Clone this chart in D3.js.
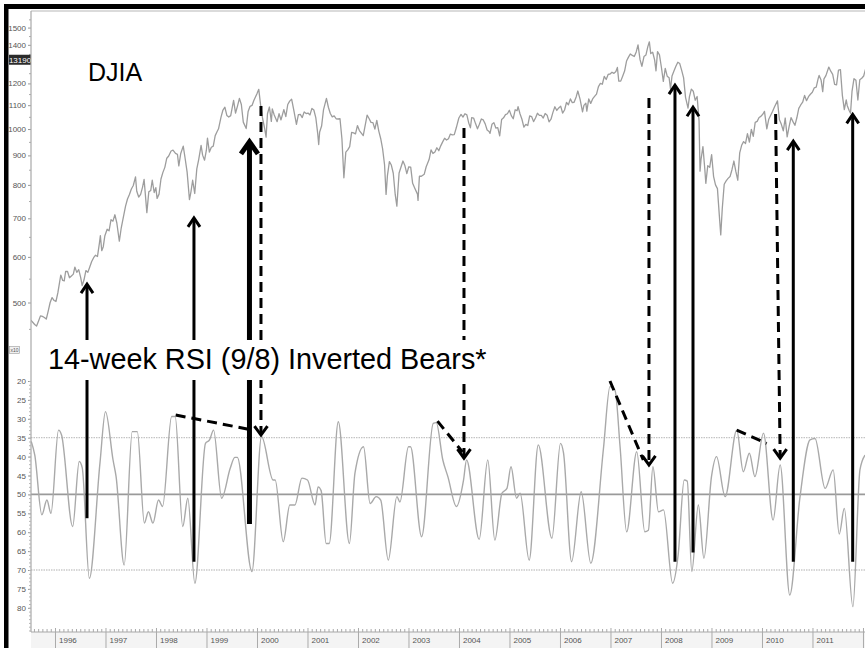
<!DOCTYPE html>
<html><head><meta charset="utf-8">
<script src="https://cdn.jsdelivr.net/npm/d3@7"></script>
<style>body{margin:0;background:#fff}svg{display:block}</style>
</head><body>
<svg id="c" width="865" height="648"></svg>
<script>
// ---- DJIA weekly-ish closes (chart units = index / 10) ----
const djiaDates = [
"1995-07-10","1995-07-24","1995-08-07","1995-08-21","1995-09-05","1995-09-18","1995-10-02","1995-10-16","1995-10-30","1995-11-13","1995-11-27","1995-12-11","1995-12-26",
"1996-01-08","1996-01-22","1996-02-05","1996-02-12","1996-02-26","1996-03-08","1996-03-18","1996-04-01","1996-04-15","1996-04-29","1996-05-13","1996-05-24","1996-06-07","1996-06-21","1996-07-05","1996-07-16","1996-07-29","1996-08-12","1996-08-26","1996-09-09","1996-09-23","1996-10-07","1996-10-21","1996-11-04","1996-11-18","1996-11-25","1996-12-05","1996-12-16","1996-12-27",
"1997-01-13","1997-01-27","1997-02-10","1997-02-24","1997-03-10","1997-03-24","1997-04-11","1997-04-25","1997-05-12","1997-05-26","1997-06-09","1997-06-23","1997-07-07","1997-07-21","1997-08-06","1997-08-15","1997-08-29","1997-09-12","1997-09-26","1997-10-07","1997-10-27","1997-11-10","1997-11-24","1997-12-05","1997-12-19","1997-12-31",
"1998-01-09","1998-01-23","1998-02-06","1998-02-20","1998-03-06","1998-03-20","1998-04-03","1998-04-20","1998-05-04","1998-05-22","1998-06-05","1998-06-15","1998-06-29","1998-07-17","1998-07-31","1998-08-14","1998-08-31","1998-09-11","1998-09-23","1998-10-08","1998-10-23","1998-11-06","1998-11-23","1998-12-04","1998-12-18","1998-12-31",
"1999-01-08","1999-01-22","1999-02-05","1999-02-19","1999-03-05","1999-03-19","1999-03-29","1999-04-16","1999-04-30","1999-05-14","1999-05-28","1999-06-11","1999-06-25","1999-07-16","1999-07-30","1999-08-13","1999-08-27","1999-09-10","1999-09-24","1999-10-15","1999-10-29","1999-11-12","1999-11-26","1999-12-10","1999-12-31",
"2000-01-14","2000-01-28","2000-02-11","2000-02-25","2000-03-07","2000-03-17","2000-03-31","2000-04-14","2000-04-21","2000-05-05","2000-05-26","2000-06-09","2000-06-23","2000-07-14","2000-07-28","2000-08-11","2000-08-25","2000-09-08","2000-09-22","2000-10-13","2000-10-27","2000-11-10","2000-11-24","2000-12-08","2000-12-22",
"2001-01-05","2001-01-19","2001-02-02","2001-02-16","2001-03-02","2001-03-16","2001-03-23","2001-03-30","2001-04-13","2001-04-27","2001-05-18","2001-06-01","2001-06-15","2001-06-29","2001-07-13","2001-07-27","2001-08-10","2001-08-24","2001-09-07","2001-09-21","2001-10-05","2001-10-19","2001-11-02","2001-11-16","2001-11-30","2001-12-14","2001-12-28",
"2002-01-11","2002-01-25","2002-02-08","2002-02-22","2002-03-08","2002-03-22","2002-04-05","2002-04-19","2002-05-03","2002-05-17","2002-05-31","2002-06-14","2002-06-28","2002-07-12","2002-07-23","2002-08-02","2002-08-16","2002-08-30","2002-09-13","2002-09-27","2002-10-09","2002-10-25","2002-11-08","2002-11-22","2002-12-06","2002-12-20",
"2003-01-03","2003-01-17","2003-01-31","2003-02-14","2003-03-07","2003-03-11","2003-03-21","2003-04-04","2003-04-25","2003-05-09","2003-05-30","2003-06-13","2003-06-27","2003-07-11","2003-07-25","2003-08-08","2003-08-22","2003-09-05","2003-09-19","2003-10-03","2003-10-17","2003-10-31","2003-11-14","2003-11-28","2003-12-12","2003-12-31",
"2004-01-16","2004-01-30","2004-02-13","2004-02-27","2004-03-12","2004-03-24","2004-04-02","2004-04-16","2004-04-30","2004-05-14","2004-05-28","2004-06-11","2004-06-25","2004-07-09","2004-07-23","2004-08-06","2004-08-13","2004-08-27","2004-09-10","2004-09-24","2004-10-08","2004-10-22","2004-11-05","2004-11-19","2004-12-03","2004-12-17","2004-12-31",
"2005-01-14","2005-01-28","2005-02-11","2005-02-25","2005-03-04","2005-03-18","2005-04-01","2005-04-15","2005-04-29","2005-05-13","2005-05-27","2005-06-10","2005-06-24","2005-07-08","2005-07-22","2005-08-05","2005-08-19","2005-09-02","2005-09-16","2005-09-30","2005-10-14","2005-10-28","2005-11-11","2005-11-25","2005-12-09","2005-12-23",
"2006-01-06","2006-01-20","2006-02-03","2006-02-17","2006-03-03","2006-03-17","2006-03-31","2006-04-13","2006-04-28","2006-05-10","2006-05-26","2006-06-13","2006-06-23","2006-07-07","2006-07-14","2006-07-28","2006-08-11","2006-08-25","2006-09-08","2006-09-22","2006-10-06","2006-10-20","2006-11-03","2006-11-17","2006-12-01","2006-12-15","2006-12-29",
"2007-01-12","2007-01-26","2007-02-09","2007-02-20","2007-03-02","2007-03-16","2007-03-30","2007-04-13","2007-04-27","2007-05-11","2007-05-25","2007-06-08","2007-06-22","2007-07-06","2007-07-19","2007-08-03","2007-08-16","2007-08-31","2007-09-14","2007-09-28","2007-10-09","2007-10-19","2007-11-02","2007-11-16","2007-11-26","2007-12-07","2007-12-21",
"2008-01-04","2008-01-18","2008-02-01","2008-02-15","2008-02-29","2008-03-10","2008-03-21","2008-04-04","2008-04-18","2008-05-02","2008-05-16","2008-05-30","2008-06-13","2008-06-27","2008-07-15","2008-07-25","2008-08-08","2008-08-22","2008-09-05","2008-09-19","2008-10-03","2008-10-10","2008-10-17","2008-10-31","2008-11-14","2008-11-21","2008-12-05","2008-12-19",
"2009-01-02","2009-01-16","2009-01-30","2009-02-13","2009-02-27","2009-03-09","2009-03-20","2009-04-03","2009-04-17","2009-05-01","2009-05-15","2009-05-29","2009-06-12","2009-06-26","2009-07-10","2009-07-24","2009-08-07","2009-08-21","2009-09-04","2009-09-18","2009-10-02","2009-10-16","2009-10-30","2009-11-13","2009-11-27","2009-12-11","2009-12-24",
"2010-01-08","2010-01-19","2010-02-05","2010-02-19","2010-03-05","2010-03-19","2010-04-02","2010-04-23","2010-05-07","2010-05-21","2010-06-04","2010-06-18","2010-07-02","2010-07-16","2010-07-30","2010-08-13","2010-08-27","2010-09-10","2010-09-24","2010-10-08","2010-10-22","2010-11-05","2010-11-19","2010-12-03","2010-12-17","2010-12-31",
"2011-01-14","2011-01-28","2011-02-11","2011-02-18","2011-03-04","2011-03-16","2011-03-25","2011-04-08","2011-04-29","2011-05-13","2011-05-27","2011-06-10","2011-06-24","2011-07-08","2011-07-22","2011-08-05","2011-08-19","2011-09-02","2011-09-09","2011-09-23","2011-10-03","2011-10-14","2011-10-28","2011-11-11","2011-11-25","2011-12-09","2011-12-23",
"2012-01-06","2012-01-20","2012-01-30"
];
const djiaValues = [
466,462,458,455,465,474,473,471,468,483,500,510,504,
502,520,545,558,546,545,566,566,552,556,560,576,564,570,553,535,547,568,564,576,589,598,604,601,634,653,615,625,652,
670,666,696,692,710,687,639,674,707,735,756,770,787,798,826,780,762,770,793,818,716,778,782,815,776,791,
758,771,819,841,858,890,898,916,919,907,904,863,907,934,888,842,754,779,815,773,853,886,937,901,883,918,
964,912,930,934,974,990,1001,1049,1079,1091,1056,1049,1055,1121,1066,1096,1130,1103,1028,1002,1073,1095,1099,1122,1150,
1172,1097,1042,1004,968,1063,1092,1031,1084,1058,1030,1063,1037,1081,1051,1103,1118,1127,1084,1019,1059,1060,1047,1071,1064,
1066,1058,1086,1079,1047,982,940,988,1012,1081,1130,1091,1064,1050,1054,1042,1041,1042,961,823,912,920,932,987,985,981,1014,
994,984,974,1015,1057,1043,1027,1026,1000,1035,993,963,924,867,770,831,878,866,838,770,735,839,859,880,864,837,
860,859,805,791,771,752,828,828,835,860,885,920,907,912,928,917,935,950,964,957,962,980,977,978,1004,1045,
1060,1049,1063,1058,1024,1005,1047,1045,1022,1001,1019,1041,1037,1021,996,990,983,1019,1026,1004,1006,973,1039,1046,1059,1063,1078,
1055,1042,1080,1076,1094,1063,1040,1008,1019,1014,1054,1051,1030,1045,1065,1056,1056,1045,1064,1057,1029,1040,1069,1093,1077,1088,
1096,1066,1079,1112,1102,1128,1111,1113,1137,1164,1127,1071,1099,1109,1074,1128,1108,1128,1139,1150,1185,1200,1196,1234,1219,1244,1246,
1255,1249,1258,1279,1211,1211,1235,1261,1312,1333,1350,1342,1336,1361,1400,1318,1285,1336,1344,1390,1417,1352,1359,1318,1262,1363,1345,
1280,1210,1274,1235,1227,1174,1236,1261,1285,1306,1299,1264,1227,1135,1087,1137,1173,1163,1122,1139,1033,845,885,932,850,805,864,858,
903,828,800,788,706,655,728,802,813,821,827,850,880,844,815,909,937,951,944,982,949,999,971,1027,1031,1047,1052,
1062,1073,1001,1040,1057,1074,1093,1119,1038,1019,993,1045,969,1010,1047,1030,1015,1046,1086,1101,1113,1144,1120,1138,1149,1158,
1179,1182,1223,1239,1217,1161,1222,1238,1281,1260,1244,1195,1193,1266,1268,1144,1081,1124,1099,1077,1065,1164,1223,1215,1123,1218,1225,
1236,1272,1266
];

// ---- 14-week RSI (inverted), turning points, decimal years ----
const rsiYears = [
1995.53,1995.60,1995.74,1995.84,1995.92,1996.07,1996.13,1996.35,1996.48,1996.54,
1996.68,1996.89,1997.00,1997.15,1997.21,1997.37,1997.53,1997.63,1997.77,1997.85,
1997.94,1998.05,1998.13,1998.31,1998.38,1998.53,1998.63,1998.77,1998.98,1999.06,
1999.14,1999.30,1999.47,1999.56,1999.61,1999.90,2000.09,2000.32,2000.36,2000.52,
2000.65,2000.75,2000.89,2001.00,2001.15,2001.21,2001.27,2001.37,2001.43,2001.61,
2001.83,2001.94,2002.11,2002.24,2002.36,2002.45,2002.60,2002.77,2002.83,2003.00,
2003.04,2003.26,2003.49,2003.55,2003.68,2003.78,2003.95,2004.09,2004.15,2004.40,
2004.57,2004.71,2004.85,2004.95,2005.03,2005.14,2005.21,2005.39,2005.57,2005.84,
2006.01,2006.07,2006.23,2006.42,2006.61,2006.86,2006.99,2007.09,2007.19,2007.32,
2007.52,2007.68,2007.75,2007.84,2007.95,2008.05,2008.23,2008.34,2008.46,2008.52,
2008.61,2008.74,2008.85,2009.00,2009.10,2009.27,2009.50,2009.63,2009.75,2009.86,
2010.03,2010.22,2010.36,2010.55,2010.75,2010.95,2011.05,2011.25,2011.41,2011.53,
2011.63,2011.80,2011.94,2012.04
];
const rsiValues = [
36,39.6,55.4,51.5,55,33,34.3,58.5,41.3,43,
72.2,41.8,28.1,40.9,45.3,68.7,33.4,33.4,57.6,54.6,
57.6,51.5,53.2,29.4,29.4,58.5,51,73.5,36.5,35.6,
33,51,43.1,40.2,40.2,70.4,34.7,46.2,46.2,62.5,
52.8,52.8,45.7,46.2,52.8,48,49,63,63,30.8,
63,44.4,37.4,52.4,50.6,51.5,67.4,50.6,52,37.4,
37.4,61.2,31.2,31,40.9,45.3,53.2,46.2,40.9,61.9,
40.9,62.1,49.7,48.4,42.7,51,49.7,67.4,36.9,61.6,
36.5,39,67.8,49.3,68.2,38,21.5,22.5,37.4,59.9,
38.7,59.9,59.5,42.7,54.6,54.1,73.5,66,46.2,46.5,
70.4,52.8,66.9,45.3,40,50.6,33,44,39.1,45.3,
33.8,56.8,42.2,76.6,51,35.6,35.2,48.4,43.5,60.5,
53.7,79.7,43.5,39.6
];

// ---- axes / labels ----
const priceTicks = [500,600,700,800,900,1000,1100,1200,1400,1500];
const priceMinor = [450,550,650,750,850,950,1050,1150,1250,1300,1350,1450,1550];
const lastValueLabel = {value: 1319, text: "13190"};
const rsiTicks = [20,25,30,35,40,45,50,55,60,65,70,75,80];
const rsiLevels = [35,50,70];
const yearTicks = [1996,1997,1998,1999,2000,2001,2002,2003,2004,2005,2006,2007,2008,2009,2010,2011,2012];
const yearLabels = ["1996","1997","1998","1999","2000","2001","2002","2003","2004","2005","2006","2007","2008","2009","2010","2011"];

// ---- annotations ----
const upYears   = [1996.634, 1998.752, 1999.851, 2008.277, 2008.634, 2010.620, 2011.796];
const upTops    = [538, 701, 950, 1192, 1091, 953, 1060];   // DJIA level of arrow tip
const upBottoms = [56.3, 67.8, 57.8, 67.8, 65.4, 67.8, 67.8]; // RSI level of arrow base
const upThick   = [false, false, true, false, false, false, false];

const downTopYears = [2000.079, 2004.099, 2007.762, 2010.270];
const downBotYears = [2000.079, 2004.099, 2007.762, 2010.360];
const downTops     = [1096, 1004, 1132, 1062];
const downBottoms  = [34.3, 40.4, 42.2, 40.4];

const divStartYears = [1998.39, 2003.574, 2006.99, 2009.499];
const divStartRsi   = [29.0, 30.6, 20.0, 33.0];
const divEndYears   = [1999.847, 2004.069, 2007.65, 2010.093];
const divEndRsi     = [32.8, 38.8, 40.9, 36.5];

const titleText = "DJIA";
const rsiTitle = "14-week RSI (9/8) Inverted Bears*";

// ================= drawing =================
const W = 865, H = 648;
const svg = d3.select("#c");
const L = 31, R = 865;
const x = d3.scaleLinear().domain([1995.525, 2012.04]).range([L, R]);
const yP = d3.scaleLog().domain([427, 1622]).range([342, 8]);
const yR = d3.scaleLinear().domain([20, 80]).range([381, 607.8]);

const parse = d3.timeParse("%Y-%m-%d");
function decYear(s){const d=parse(s);const y=d.getFullYear();const a=new Date(y,0,1),b=new Date(y+1,0,1);return y+(d-a)/(b-a);}

svg.append("rect").attr("width",W).attr("height",H).attr("fill","#fff");
// x-axis band
svg.append("rect").attr("x",L).attr("y",632).attr("width",R-L).attr("height",16).attr("fill","#f4f4f4");

svg.append("defs").append("clipPath").attr("id","plot")
  .append("rect").attr("x",L).attr("y",10).attr("width",R-L).attr("height",622);

// top inner line
svg.append("line").attr("x1",L).attr("x2",R).attr("y1",11).attr("y2",11).attr("stroke","#cfcfcf").attr("stroke-width",1.5);

// RSI levels
const lvlStyle = {35:{c:"#c4c4c4",d:"1.5,1",w:1.2},50:{c:"#9a9a9a",d:null,w:1.6},70:{c:"#b0b0b0",d:"1.5,1",w:1.2}};
svg.append("g").selectAll("line").data(rsiLevels).join("line")
  .attr("x1",L).attr("x2",R).attr("y1",d=>yR(d)).attr("y2",d=>yR(d))
  .attr("stroke",d=>lvlStyle[d].c).attr("stroke-width",d=>lvlStyle[d].w)
  .attr("stroke-dasharray",d=>lvlStyle[d].d);

// DJIA line
const djia = djiaDates.map((d,i)=>({t:decYear(d), v:djiaValues[i]}));
svg.append("path").datum(djia).attr("clip-path","url(#plot)")
  .attr("fill","none").attr("stroke","#9d9d9d").attr("stroke-width",1.3).attr("stroke-linejoin","round")
  .attr("d", d3.line().x(d=>x(d.t)).y(d=>yP(d.v)));

// RSI line
const rsi = rsiYears.map((t,i)=>({t, v:rsiValues[i]}));
svg.append("path").datum(rsi).attr("clip-path","url(#plot)")
  .attr("fill","none").attr("stroke","#a9a9a9").attr("stroke-width",1.4)
  .attr("d", d3.line().curve(d3.curveMonotoneX).x(d=>x(d.t)).y(d=>yR(d.v)));

// ---- axes ----
const tickFont = "'Liberation Sans Narrow','Arial Narrow','Liberation Sans',sans-serif";
function styleAxis(g){
  g.select(".domain").attr("stroke","#a8a8a8").attr("stroke-width",1.2);
  g.selectAll(".tick line").attr("stroke","#999");
  g.selectAll(".tick text").attr("fill","#555").attr("font-family",tickFont).attr("font-size",8);
}
// price axis
const gP = svg.append("g").attr("transform",`translate(${L},0)`)
  .call(d3.axisLeft(yP).tickValues(priceTicks).tickFormat(d3.format("d")).tickSize(3).tickPadding(2).tickSizeOuter(0));
styleAxis(gP);
gP.select(".domain").remove();
svg.append("g").attr("transform",`translate(${L},0)`)
  .call(d3.axisLeft(yP).tickValues(priceMinor).tickFormat("").tickSize(2).tickSizeOuter(0))
  .call(g=>{g.select(".domain").remove();g.selectAll("line").attr("stroke","#aaa");});
// last value box
const lvY = yP(lastValueLabel.value);
svg.append("rect").attr("x",9).attr("y",lvY-5).attr("width",22).attr("height",10).attr("fill","#2b2b2b");
svg.append("text").attr("x",20).attr("y",lvY+3).attr("text-anchor","middle").attr("fill","#fff")
  .attr("font-family",tickFont).attr("font-size",8).text(lastValueLabel.text);

// vertical axis line
svg.append("line").attr("x1",L).attr("x2",L).attr("y1",11).attr("y2",632).attr("stroke","#a8a8a8").attr("stroke-width",1.2);

// RSI axis
const gR = svg.append("g").attr("transform",`translate(${L},0)`)
  .call(d3.axisLeft(yR).tickValues(rsiTicks).tickSize(3).tickPadding(2).tickSizeOuter(0));
styleAxis(gR); gR.select(".domain").remove();
svg.append("g").attr("transform",`translate(${L},0)`)
  .call(d3.axisLeft(yR).tickValues(d3.range(20,87,1)).tickFormat("").tickSize(2).tickSizeOuter(0))
  .call(g=>{g.select(".domain").remove();g.selectAll("line").attr("stroke","#b5b5b5");});
// x10 box
svg.append("rect").attr("x",9.5).attr("y",346.5).attr("width",10).attr("height",7).attr("fill","#f0f0f0").attr("stroke","#999").attr("stroke-width",0.6);
svg.append("text").attr("x",14.5).attr("y",352).attr("text-anchor","middle").attr("font-size",5).attr("fill","#555").attr("font-family",tickFont).text("x10");

// x axis
svg.append("line").attr("x1",L).attr("x2",R).attr("y1",632).attr("y2",632).attr("stroke","#a8a8a8").attr("stroke-width",1.2);
const months = [];
yearTicks.concat([1995]).forEach(yr=>{for(let m=1;m<12;m++){const t=yr+m/12; if(t>1995.525&&t<2012.04) months.push(t);}});
svg.append("g").attr("transform","translate(0,632)")
  .call(d3.axisTop(x).tickValues(months).tickFormat("").tickSize(3).tickSizeOuter(0))
  .call(g=>{g.select(".domain").remove();g.selectAll("line").attr("stroke","#aaa");});
svg.append("g").attr("transform","translate(0,628)")
  .call(d3.axisBottom(x).tickValues(yearTicks).tickFormat("").tickSize(20).tickSizeOuter(0))
  .call(g=>{g.select(".domain").remove();g.selectAll("line").attr("stroke","#aaa");});
svg.append("g").selectAll("text").data(yearLabels).join("text")
  .attr("x",d=>x(+d)+4).attr("y",643).attr("fill","#555")
  .attr("font-family",tickFont).attr("font-size",8).text(d=>d);

// ---- annotations ----
const ann = svg.append("g");
// divergence dashed lines
divStartYears.forEach((s,i)=>{
  ann.append("line").attr("x1",x(s)).attr("y1",yR(divStartRsi[i])).attr("x2",x(divEndYears[i])).attr("y2",yR(divEndRsi[i]))
    .attr("stroke","#000").attr("stroke-width",3).attr("stroke-dasharray","10,6");
});
// dashed down arrows
downTopYears.forEach((s,i)=>{
  const x1=x(s), y1=yP(downTops[i]), x2=x(downBotYears[i]), y2=yR(downBottoms[i]);
  ann.append("line").attr("x1",x1).attr("y1",y1).attr("x2",x2).attr("y2",y2-2)
    .attr("stroke","#000").attr("stroke-width",3).attr("stroke-dasharray","10,6");
  ann.append("path").attr("d",`M${x2-6.5},${y2-9}L${x2},${y2}L${x2+6.5},${y2-9}`)
    .attr("fill","none").attr("stroke","#000").attr("stroke-width",3);
});
// solid up arrows
upYears.forEach((s,i)=>{
  const xx=x(s), top=yP(upTops[i]), bot=yR(upBottoms[i]);
  const w = upThick[i]?5:3, hw = upThick[i]?8.5:6, hh = upThick[i]?12:9;
  ann.append("line").attr("x1",xx).attr("x2",xx).attr("y1",bot).attr("y2",top+2).attr("stroke","#000").attr("stroke-width",w);
  ann.append("path").attr("d",`M${xx-hw},${top+hh}L${xx},${top}L${xx+hw},${top+hh}`)
    .attr("fill","none").attr("stroke","#000").attr("stroke-width",w);
});

// RSI title with white backing
svg.append("rect").attr("x",44).attr("y",340).attr("width",452).attr("height",40).attr("fill","#fff");
svg.append("text").attr("x",48).attr("y",369).attr("font-family","'Liberation Sans',Arial,sans-serif")
  .attr("font-size",28.8).attr("fill","#000").text(rsiTitle);
svg.append("text").attr("x",88).attr("y",81).attr("font-family","'Liberation Sans',Arial,sans-serif")
  .attr("font-size",25).attr("fill","#000").text(titleText);

// frame
svg.append("rect").attr("x",4).attr("y",4).attr("width",W-4).attr("height",5).attr("fill","#000");
svg.append("rect").attr("x",4).attr("y",4).attr("width",4.5).attr("height",H-4).attr("fill","#000");
</script>
</body></html>
